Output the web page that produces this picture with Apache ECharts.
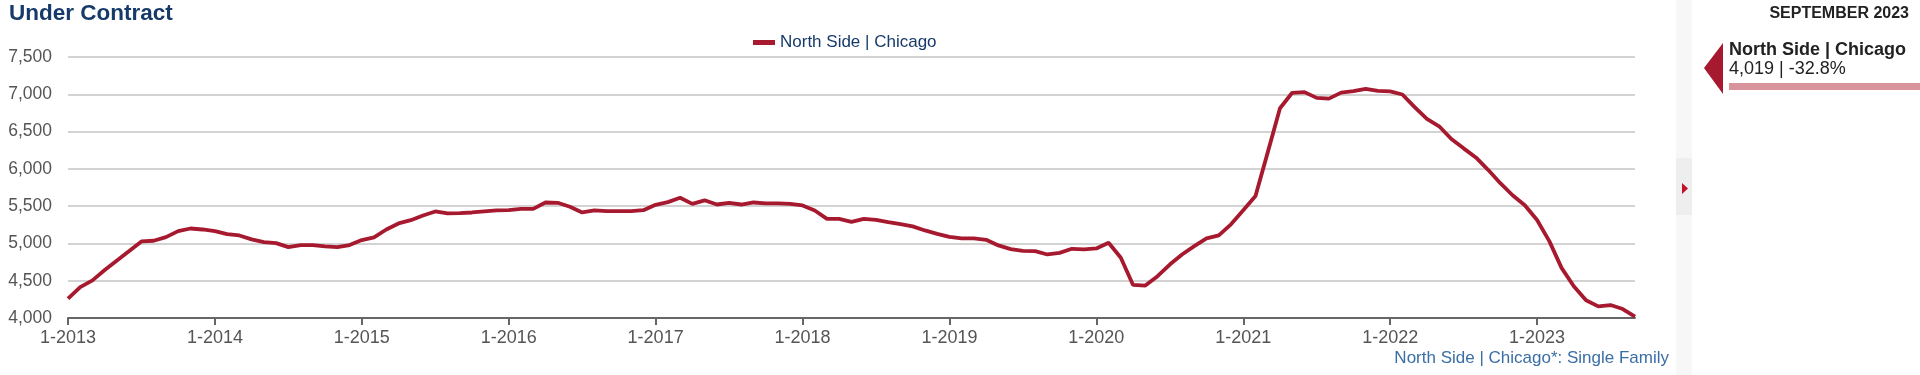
<!DOCTYPE html>
<html>
<head>
<meta charset="utf-8">
<script src="https://cdn.jsdelivr.net/npm/echarts@6/dist/echarts.min.js"></script>
<style>
html,body{margin:0;padding:0;background:#fff;}
#c{width:1920px;height:375px;}
</style>
</head>
<body>
<div id="c"></div>
<script>
// ---- data ----
const startYear = 2013;
const monthCount = 129; // Jan 2013 .. Sep 2023
const categories = [];
for (let i = 0; i < monthCount; i++) {
  categories.push(((i % 12) + 1) + '-' + (startYear + Math.floor(i / 12)));
}
const seriesName = 'North Side | Chicago';
const underContract = [
  4260, 4415, 4505, 4643, 4772, 4897, 5027, 5036, 5085, 5165, 5200, 5187,
  5165, 5125, 5107, 5054, 5018, 5004, 4951, 4978, 4978, 4960, 4951, 4978,
  5045, 5080, 5187, 5268, 5312, 5375, 5429, 5402, 5406, 5415, 5429, 5442,
  5446, 5464, 5464, 5549, 5545, 5491, 5415, 5442, 5433, 5433, 5433, 5446,
  5518, 5554, 5612, 5531, 5578, 5522, 5545, 5522, 5549, 5536, 5536, 5531,
  5509, 5442, 5330, 5330, 5290, 5330, 5317, 5286, 5259, 5228, 5174, 5129,
  5089, 5067, 5067, 5049, 4973, 4924, 4900, 4897, 4852, 4874, 4928, 4919,
  4933, 5009, 4807, 4443, 4435, 4560, 4717, 4852, 4964, 5067, 5108, 5256,
  5444, 5637, 6221, 6813, 7020, 7029, 6952, 6942, 7022, 7042, 7073, 7046,
  7038, 6997, 6827, 6670, 6571, 6400, 6275, 6153, 5987, 5808, 5646, 5512,
  5314, 5031, 4672, 4426, 4237, 4156, 4174, 4120, 4019
];
const yTicks = { min: 4000, max: 7500, interval: 500 };
const titleText = 'Under Contract';
const panelDate = 'SEPTEMBER 2023';
const panelValue = '4,019 | -32.8%';
const footnote = 'North Side | Chicago*: Single Family';

// ---- chart ----
const RED = '#a6192e';
const NAVY = '#163a6a';
const chart = echarts.init(document.getElementById('c'), null, { renderer: 'canvas' });
const isJan = (idx) => idx % 12 === 0;
const FONT = '"Liberation Sans", Arial, sans-serif';

chart.setOption({
  animation: false,
  textStyle: { fontFamily: FONT },
  grid: { left: 68, right: 285, top: 57, bottom: 57, containLabel: false },
  legend: {
    data: [seriesName],
    left: 748, top: 29,
    icon: 'rect', itemWidth: 22, itemHeight: 5, itemGap: 10,
    textStyle: { color: NAVY, fontSize: 17, fontFamily: FONT }
  },
  xAxis: {
    type: 'category',
    data: categories,
    boundaryGap: false,
    axisLine: { lineStyle: { color: '#666', width: 2 } },
    axisTick: { show: true, interval: (idx) => isJan(idx), length: 7, lineStyle: { color: '#666', width: 2 } },
    axisLabel: { interval: (idx) => isJan(idx), color: '#555', fontSize: 18, margin: 11, fontFamily: FONT },
    splitLine: { show: false }
  },
  yAxis: {
    type: 'value',
    min: yTicks.min, max: yTicks.max, interval: yTicks.interval,
    axisLine: { show: false },
    axisTick: { show: false },
    axisLabel: { color: '#555', fontSize: 17.5, margin: 16, fontFamily: FONT,
      formatter: (v) => v.toLocaleString('en-US') },
    splitLine: { lineStyle: { color: '#c4c4c4', width: 1.5 } }
  },
  series: [{
    name: seriesName,
    type: 'line',
    data: underContract,
    showSymbol: false,
    symbol: 'none',
    lineStyle: { color: RED, width: 3.8 },
    itemStyle: { color: RED }
  }],
  graphic: [
    { type: 'text', left: 9, top: 2, style: { text: titleText, fill: NAVY, font: 'bold 22.5px ' + FONT } },
    // divider strip
    { type: 'rect', shape: { x: 1676, y: 0, width: 16, height: 375 }, style: { fill: '#f7f7f7' } },
    { type: 'rect', shape: { x: 1676, y: 158, width: 16, height: 57 }, style: { fill: '#eeeeee' } },
    { type: 'polygon', shape: { points: [[1682, 183], [1688, 188.5], [1682, 194]] }, style: { fill: '#c0102a' } },
    // right panel
    { type: 'text', right: 11, top: 6, style: { text: panelDate, fill: '#222', font: 'bold 16px ' + FONT } },
    { type: 'polygon', shape: { points: [[1704, 68], [1723, 43], [1723, 94]] }, style: { fill: RED } },
    { type: 'text', left: 1729, top: 41, style: { text: seriesName, fill: '#222', font: 'bold 18px ' + FONT } },
    { type: 'text', left: 1729, top: 60, style: { text: panelValue, fill: '#222', font: '18px ' + FONT } },
    { type: 'rect', shape: { x: 1729, y: 83, width: 191, height: 7 }, style: { fill: '#d8939b' } },
    // footnote
    { type: 'text', right: 251, top: 350, style: { text: footnote, fill: '#3a6ea5', font: '17px ' + FONT } }
  ]
});
</script>
</body>
</html>
